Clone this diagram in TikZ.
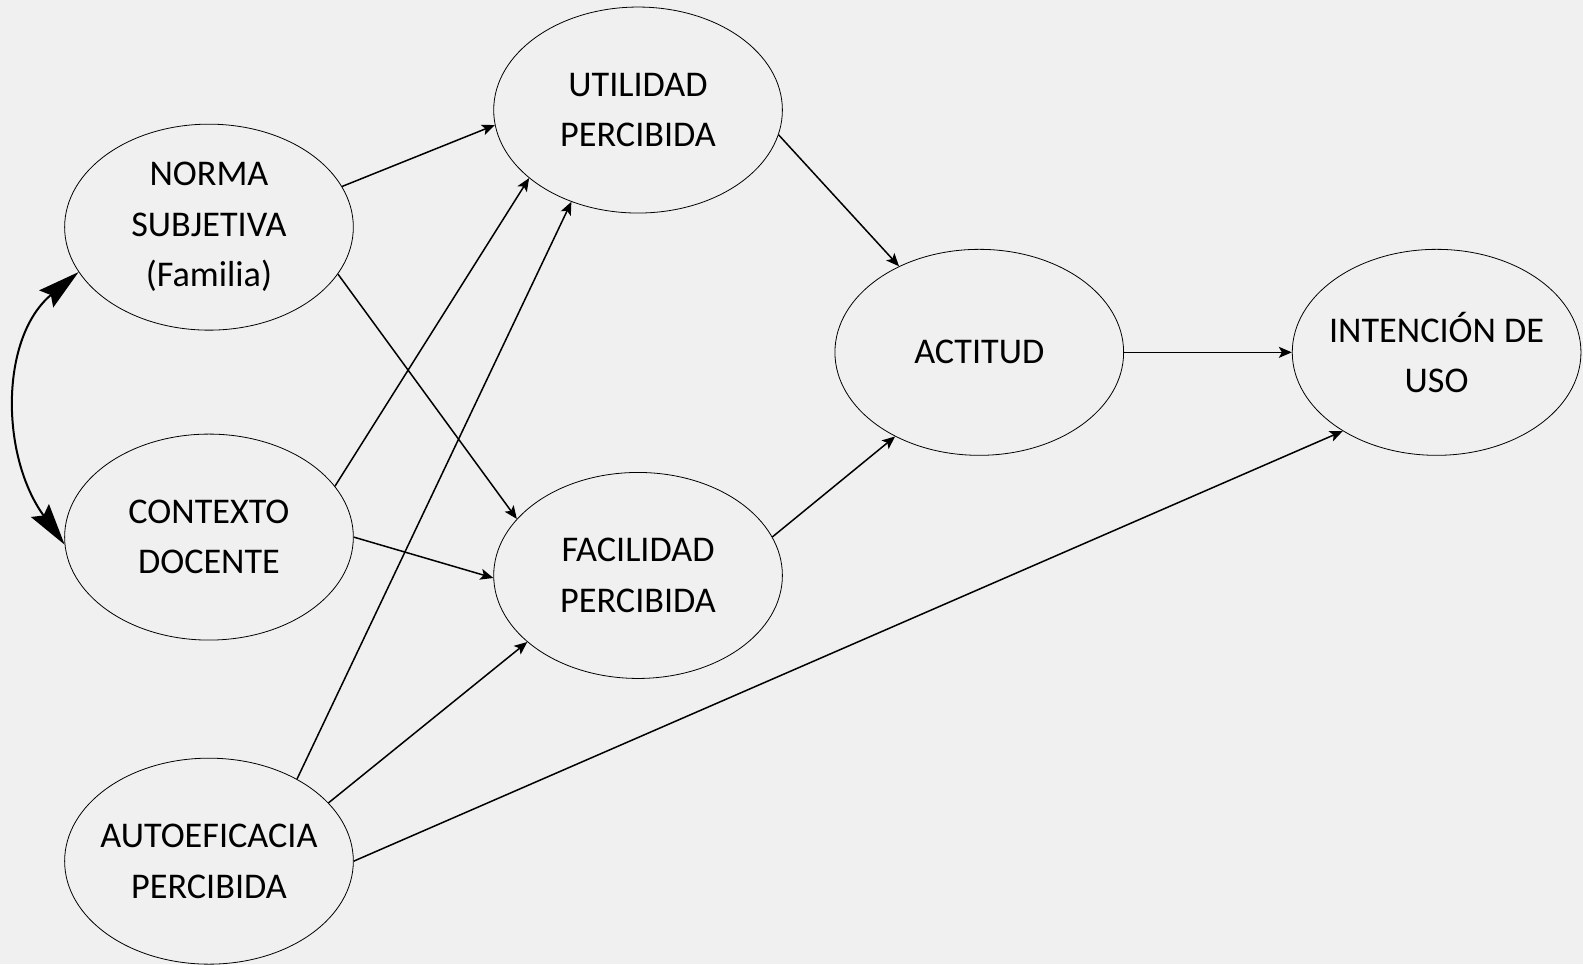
\documentclass[tikz,border=0pt]{standalone}
\usepackage{fontspec}
\setmainfont{Carlito}
\usetikzlibrary{shapes.geometric,arrows.meta}
\definecolor{bg}{HTML}{F0F0F0}
\begin{document}
\begin{tikzpicture}[x=1.0096pt,y=-1.0096pt,
  construct/.style={draw, ellipse, line width=0.8pt, minimum width=288.7pt, minimum height=206pt, inner xsep=-80pt, inner ysep=-40pt, align=center, font=\fontsize{36.2}{50.5}\selectfont},
  conn/.style={line width=1.5pt, -{Stealth[length=13pt,width=11pt,inset=3pt]}},
  bidir/.style={line width=2pt, {Stealth[length=42pt,width=22pt,inset=6pt]}-{Stealth[length=42pt,width=22pt,inset=6pt]}}]
\fill[bg] (0,0) rectangle (1568,955);
\useasboundingbox (0,0) rectangle (1568,955);
\node[construct] (ns) at (207,225) {NORMA\\SUBJETIVA\\(Familia)};
\node[construct] (cd) at (207,532) {CONTEXTO\\DOCENTE};
\node[construct] (ap) at (207,853) {AUTOEFICACIA\\PERCIBIDA};
\node[construct] (up) at (632,109) {UTILIDAD\\PERCIBIDA};
\node[construct] (fp) at (632,570) {FACILIDAD\\PERCIBIDA};
\node[construct] (ac) at (970,349) {ACTITUD};
\node[construct] (iu) at (1423,349) {INTENCIÓN DE\\USO};
\draw[conn] (ns.17.5) -- (up.-174);
\draw[conn] (ns.-20.3) -- (fp.155.6);
\draw[conn] (cd.22.8) -- (up.-148.7);
\draw[conn] (cd.0) -- (fp.-179);
\draw[conn] (ap.43.3) -- (up.-126.8);
\draw[conn] (ap.26.8) -- (fp.-149.7);
\draw[conn] (ap.0) -- (iu.-140);
\draw[conn] (up.-10.5) -- (ac.133.6);
\draw[conn] (fp.16.9) -- (ac.-135);
\draw[conn] (ac.east) -- (iu.west);
\draw[bidir] (ns.199) .. controls (0,334) and (0,451) .. (cd.183);
\end{tikzpicture}
\end{document}
